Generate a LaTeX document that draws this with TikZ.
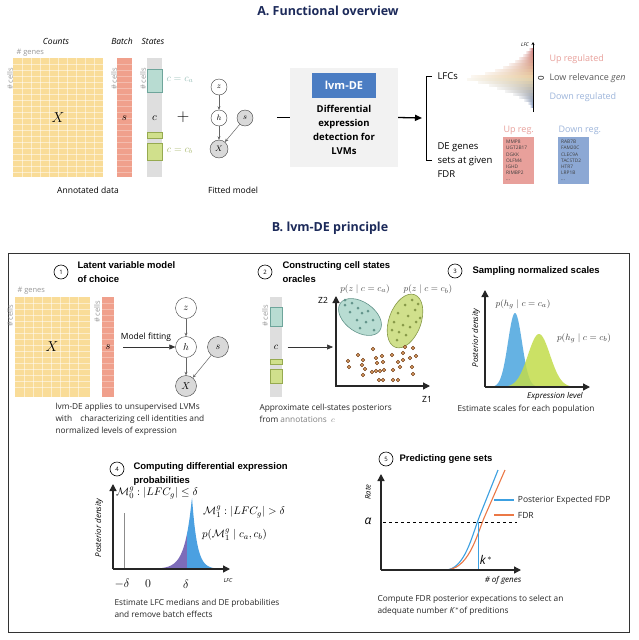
\documentclass[tikz,border=0pt]{standalone}
\usepackage{fontspec}
\setmainfont{Open Sans}
\newfontfamily\hel{Liberation Sans}
\usepackage{amsmath,amssymb}
\usetikzlibrary{arrows.meta,positioning}

\definecolor{navy}{RGB}{28,42,90}
\definecolor{counts}{RGB}{249,220,152}
\definecolor{batch}{RGB}{240,160,140}
\definecolor{states}{RGB}{222,222,222}
\definecolor{statea}{RGB}{184,220,210}
\definecolor{stateaD}{RGB}{110,165,155}
\definecolor{stateb}{RGB}{208,224,140}
\definecolor{statebD}{RGB}{150,170,80}
\definecolor{lvmblue}{RGB}{75,125,195}
\definecolor{upreg}{RGB}{232,160,155}
\definecolor{downreg}{RGB}{140,168,212}
\definecolor{lfcup}{RGB}{200,110,110}
\definecolor{lfcmid}{RGB}{236,214,168}
\definecolor{lfcdown}{RGB}{120,142,185}
\definecolor{peaka}{RGB}{85,170,225}
\definecolor{peakb}{RGB}{195,220,75}
\definecolor{lfcpurple}{RGB}{125,108,185}
\definecolor{lfcblue}{RGB}{75,160,225}
\definecolor{fdp}{RGB}{60,160,225}
\definecolor{fdr}{RGB}{235,120,70}
\definecolor{dotbrown}{RGB}{110,60,25}
\definecolor{dotfill}{RGB}{228,165,105}

\newcommand\sz[2]{\fontsize{#1}{#2}\selectfont}

\tikzset{
  latent/.style={circle,draw=black!75,fill=white,minimum size=16pt,inner sep=0pt,font=\sz{8}{9}},
  observed/.style={latent,fill=black!15},
  latentb/.style={latent,minimum size=21pt,font=\sz{10}{11}},
  observedb/.style={latentb,fill=black!15},
  edge/.style={draw=black!60,line width=.5pt,-{Stealth[length=3.5pt,width=3pt]}},
  stepnum/.style={circle,draw,line width=.6pt,minimum size=14pt,inner sep=0pt,font=\sz{6}{7}},
  heading/.style={anchor=west,align=left,font=\hel\bfseries\sz{9.5}{14}},
  caption/.style={anchor=west,align=left,font=\sz{8.3}{12},text=black!85},
  plotaxis/.style={line width=1.4pt,draw=black!85,-{Triangle[length=7pt,width=7pt]}},
  fitarrow/.style={line width=.5pt,draw=black!80,-{Triangle[length=6pt,width=5pt]}},
  cellslbl/.style={rotate=90,text=black!40,font=\sz{7.5}{8}},
  hyplbl/.style={anchor=west,inner sep=0pt,font=\sz{11}{11}},
}

\begin{document}
\begin{tikzpicture}[x=1pt,y=-1pt]
  \useasboundingbox (0,0) rectangle (639,640);
  \fill[white] (0,0) rectangle (639,640);

  % ---------- A. Functional overview
  \node[font=\bfseries\sz{12.5}{14},text=navy] (titleA) at (328,11) {A. Functional overview};

  \node[font=\itshape\sz{8.5}{9}] at (56,41) {Counts};
  \node[font=\itshape\sz{8.5}{9}] at (122,41) {Batch};
  \node[font=\itshape\sz{8.5}{9}] at (153,41) {States};
  \node[anchor=west,text=black!40,font=\sz{7.5}{8}] at (13,53) {\# genes};

  \fill[counts] (13,58) rectangle (103,177);
  \foreach \gx in {22,31,...,94} \draw[white,opacity=.5,line width=.3pt] (\gx,58) -- (\gx,177);
  \foreach \gy in {64,70,...,172} \draw[white,opacity=.5,line width=.3pt] (13,\gy) -- (103,\gy);
  \node[font=\sz{14}{14}] (xa0) at (58,118) {$X$};
  \fill[batch] (117,58) rectangle (132,177);
  \foreach \gy in {64,70,...,172} \draw[white,opacity=.3,line width=.3pt] (117,\gy) -- (132,\gy);
  \node[font=\sz{11}{11}] (sa0) at (124.5,118) {$s$};
  \fill[states] (147,58) rectangle (162,177);
  \draw[fill=statea,draw=stateaD] (147,69) rectangle (162,92);
  \draw[fill=stateb,draw=statebD] (147,132) rectangle (162,138);
  \draw[fill=stateb,draw=statebD] (147,143) rectangle (162,160);
  \node[font=\sz{11}{11}] (ca0) at (154.5,118) {$c$};
  \node[text=stateaD!70,font=\sz{10}{10}] at (180,80) {$c=c_a$};
  \node[text=statebD!80,font=\sz{10}{10}] at (180,151) {$c=c_b$};
  \node[cellslbl] at (10,79) {\# cells};
  \node[cellslbl] at (114,79) {\# cells};
  \node[cellslbl] at (143,79) {\# cells};

  \node[font=\sz{18}{18}] (plus) at (183,117) {$+$};
  \node[latent] (za) at (219,87) {$z$};
  \node[latent] (ha) at (219,118) {$h$};
  \node[observed] (sa) at (245,118) {$s$};
  \node[observed,minimum size=18pt] (xa) at (219,149) {$X$};
  \draw[edge] (za) -- (ha);
  \draw[edge] (ha) -- (xa);
  \draw[edge] (sa) -- (xa);
  \node[font=\sz{8.5}{9}] at (88,190) {Annotated data};
  \node[font=\sz{8.5}{9}] at (233,190) {Fitted model};

  \node[fill=black!5,minimum width=108pt,minimum height=99pt,inner sep=0pt] (overview) at (344,117.5) {};
  \node[fill=lvmblue,text=white,font=\bfseries\sz{11}{12},minimum width=64pt,minimum height=25pt,inner sep=0pt] (lvm) at (344,85.5) {lvm-DE};
  \node[font=\bfseries\sz{9.5}{14},align=center,anchor=north] (detect) at (344,102) {Differential\\expression\\detection for\\LVMs};
  \draw[line width=1.3pt] (overview.west) ++(-13,0) -- (overview.west);
  \coordinate (brk) at (422,118);
  \draw[line width=1.3pt,-{Triangle[length=7pt,width=6pt]}] (overview.east) -- (brk);
  \draw[line width=1pt] (432,76) -- (426,76) -- (426,160) -- (432,160);
  \node[anchor=west,font=\sz{9.5}{14}] (lfcs) at (434,76) {LFCs};
  \node[anchor=west,align=left,font=\sz{9.5}{14}] (degenes) at (434,160) {DE genes\\sets at given\\FDR};

  % LFC histogram
  \foreach \len [count=\i] in {4,7,10,14,18,24,30,38,48,62,66,55,44,36,28,20,14,9,5,3}{
    \pgfmathsetmacro\by{45+3*\i}
    \ifnum\i<11 \pgfmathtruncatemacro\mix{100-10*(\i-1)}\colorlet{barc}{lfcup!\mix!lfcmid}
    \else \pgfmathtruncatemacro\mix{10*(\i-10)}\colorlet{barc}{lfcdown!\mix!lfcmid}\fi
    \shade[left color=barc!15,right color=barc] (533-\len,\by) rectangle (533,\by+2.6);
  }
  \draw[line width=.6pt,-{Stealth[length=3pt,width=3pt]}] (533,112) -- (533,42);
  \node[font=\itshape\sz{5}{5}] at (525,45) {LFC};
  \node[rotate=90,font=\sz{8}{8}] at (541,78) {0};
  \node[anchor=west,text=upreg,font=\sz{9}{9}] at (546,59) {Up regulated};
  \node[anchor=west,text=black!65,font=\sz{9}{9}] at (546,78) {Low relevance \textit{gen}};
  \node[anchor=west,text=downreg!85,font=\sz{9}{9}] at (546,97) {Down regulated};

  \node[fill=upreg,anchor=north west,text width=25pt,minimum height=46pt,inner sep=3pt,align=left,font=\sz{4.8}{6.2},text=black!75] (upbox) at (503,137) {MMP8\\UGT2B17\\DGKK\\OLFM4\\IGHD\\RIMBP2\\...};
  \node[fill=downreg,anchor=north west,text width=25pt,minimum height=46pt,inner sep=3pt,align=left,font=\sz{4.8}{6.2},text=black!75] (downbox) at (558,137) {RAB7B\\FAM20C\\CLEC9A\\TACSTD2\\HTR7\\LRP1B\\...};
  \node[above=-1pt of upbox,text=upreg,font=\sz{9}{9}] {Up reg.};
  \node[above right=-1pt and -3pt of downbox.north west,text=downreg!85,font=\sz{9}{9}] {Down reg.};

  % ---------- B. lvm-DE principle
  \node[font=\bfseries\sz{12.5}{14},text=navy] (titleB) at (330,228) {B. lvm-DE principle};
  \draw[black!80,line width=.8pt] (8,253) rectangle (629,632);

  % 1
  \node[stepnum] (n1) at (61,272) {1};
  \node[heading] (h1) at (74,272) {Latent variable model\\of choice};
  \node[anchor=west,text=black!40,font=\sz{7.5}{8}] at (14,291) {\# genes};
  \fill[counts] (15,297) rectangle (90,397);
  \foreach \gx in {24,33,...,86} \draw[white,opacity=.5,line width=.3pt] (\gx,297) -- (\gx,397);
  \foreach \gy in {303,309,...,392} \draw[white,opacity=.5,line width=.3pt] (15,\gy) -- (90,\gy);
  \node[font=\sz{14}{14}] (xb0) at (52,347) {$X$};
  \fill[batch] (102,297) rectangle (114,397);
  \foreach \gy in {303,309,...,392} \draw[white,opacity=.3,line width=.3pt] (102,\gy) -- (114,\gy);
  \node[font=\sz{11}{11}] (sb0) at (108,347) {$s$};
  \node[cellslbl] at (10,316) {\# cells};
  \node[cellslbl] at (97,312) {\# cells};
  \node[font=\sz{8.5}{9}] (fitlbl) at (146,337) {Model fitting};
  \node[latentb] (zb) at (186,308) {$z$};
  \node[latentb] (hb) at (186,347) {$h$};
  \node[observedb] (sb) at (218,347) {$s$};
  \node[observedb] (xb) at (186,386) {$X$};
  \draw[edge] (zb) -- (hb);
  \draw[edge] (hb) -- (xb);
  \draw[edge] (sb) -- (xb);
  \draw[fitarrow] (123,347) -- (hb.west);
  \node[caption] at (52,419) {lvm-DE applies to unsupervised LVMs\\with\quad characterizing cell identities and\\normalized levels of expression};

  % 2
  \node[stepnum] (n2) at (265,272) {2};
  \node[heading] (h2) at (279,272) {Constructing cell states\\oracles};
  \fill[states] (270,297) rectangle (282,397);
  \draw[fill=statea,draw=stateaD] (270,307) rectangle (282,326);
  \draw[fill=stateb,draw=statebD] (270,359) rectangle (282,364);
  \draw[fill=stateb,draw=statebD] (270,369) rectangle (282,383);
  \node[font=\sz{10}{10}] (c2) at (276,347) {$c$};
  \node[cellslbl] at (265,316) {\# cells};
  \coordinate (scatter) at (333,347);
  \draw[fitarrow] ([xshift=6pt]c2.east) -- (scatter);

  \draw[fill=statea,draw=stateaD!90!black,line width=.6pt,rotate around={-35:(360,317)}] (360,317) ellipse [x radius=24, y radius=15];
  \draw[fill=stateb,draw=statebD!90!black,line width=.6pt,rotate around={70:(405,321)}] (405,321) ellipse [x radius=28, y radius=16];
  \foreach \px/\py in {345/305,352/303,358/308,350/312,362/313,368/311,357/320,366/322,373/320,360/328,374/330,345/300}
    \fill[stateaD!90!black] (\px,\py) circle[radius=1.5pt];
  \foreach \px/\py in {412/300,405/305,415/310,398/313,408/316,420/318,394/322,403/325,410/327,399/332,392/330,406/335,416/322,397/340,418/304}
    \fill[statebD!90!black] (\px,\py) circle[radius=1.5pt];
  \foreach \px/\py in {373/349,358/355,348/361,363/360,376/358,382/356,392/355,403/353,413/348,416/356,410/358,403/360,383/362,377/363,349/367,365/369,372/372,376/371,380/371,384/370,400/367,412/367,363/375,413/374,379/380,383/380,393/380,398/380,393/370,398/362,405/347,362/365}
    \filldraw[draw=dotbrown,fill=dotfill,line width=.5pt] (\px,\py) circle[radius=1.8pt];
  \draw[plotaxis,line width=1.2pt,{Triangle[length=7pt,width=7pt]}-{Triangle[length=7pt,width=7pt]}] (336,296) -- (336,386) -- (430,386);
  \node[font=\sz{8.5}{9}] (z2) at (323,300) {Z2};
  \node[font=\sz{8.5}{9}] (z1) at (427,399) {Z1};
  \node[text=black!70,font=\sz{9.5}{10}] at (365,289) {$p(z\mid c=c_a)$};
  \node[text=black!70,font=\sz{9.5}{10}] at (428,289) {$p(z\mid c=c_b)$};
  \node[caption] at (256,413) {Approximate cell-states posteriors\\from {\color{black!50}annotations}\ \ {\color{black!50}$c$}};

  % 3
  \node[stepnum] (n3) at (455,271) {3};
  \node[heading] (h3) at (469,271) {Sampling normalized scales};
  \fill[peaka,opacity=.9] plot[domain=490:540,samples=60] (\x,{387-74*exp(-0.5*((\x-515)/7)*((\x-515)/7))}) -- cycle;
  \fill[peakb,opacity=.85] plot[domain=502:578,samples=60] (\x,{387-53*exp(-0.5*((\x-539)/11)*((\x-539)/11))}) -- cycle;
  \draw[plotaxis] (485,387) -- (485,290);
  \draw[plotaxis] (485,387) -- (590,387);
  \node[rotate=90,font=\itshape\sz{8}{8}] at (476,338) {Posterior density};
  \node[font=\itshape\sz{8}{8}] at (555,396) {Expression level};
  \node[text=black!75,font=\sz{9.5}{10}] at (523,304) {$p(h_g\mid c=c_a)$};
  \node[text=black!75,font=\sz{9.5}{10}] at (584,338) {$p(h_g\mid c=c_b)$};
  \node[caption] at (454,409) {Estimate scales for each population};

  % 4
  \node[stepnum] (n4) at (117,469) {4};
  \node[heading] (h4) at (130,474.5) {Computing differential expression\\probabilities};
  \draw[black!45,line width=.8pt] (124,513) -- (124,569);
  \fill[lfcpurple] plot[domain=156:187,samples=40] (\x,{569-72*exp(-abs(\x-192)/7)}) -- (187,569) -- cycle;
  \fill[lfcblue] plot[domain=187:217,samples=60] (\x,{569-72*exp(-abs(\x-192)/((\x<192)*7+(\x>=192)*5))}) -- (187,569) -- cycle;
  \draw[plotaxis] (113,569) -- (113,484);
  \draw[plotaxis] (113,569) -- (230,569);
  \node[rotate=90,font=\itshape\sz{8}{8}] at (99,528) {Posterior density};
  \node[hyplbl] at (116,493) {$\mathcal{M}_0^g : |LFC_g|\leq\delta$};
  \node[hyplbl] at (203,512) {$\mathcal{M}_1^g : |LFC_g|>\delta$};
  \node[hyplbl] at (202,535) {$p(\mathcal{M}_1^g\mid c_a,c_b)$};
  \node[font=\sz{12}{12}] at (122,584) {$-\delta$};
  \node[font=\sz{12}{12}] at (148,584) {$0$};
  \node[font=\sz{12}{12}] at (186,584) {$\delta$};
  \node[font=\itshape\sz{5.5}{6}] at (228,581) {LFC};
  \node[caption] at (111,608) {Estimate LFC medians and DE probabilities\\and remove batch effects};

  % 5
  \node[stepnum] (n5) at (386,459) {5};
  \node[heading] (h5) at (396,459) {Predicting gene sets};
  \draw[dashed,line width=.9pt] (383,522) -- (517,522);
  \draw[fdp,line width=1.1pt] (445,570) .. controls (465,570) and (472,535) .. (480,515) -- (498,470);
  \draw[fdr,line width=1.1pt] (445,570) .. controls (468,570) and (476,538) .. (484,518) -- (505,470);
  \draw[fdp,line width=.9pt] (478,522) -- (478,570);
  \draw[plotaxis] (381,570) -- (381,474);
  \draw[plotaxis] (381,570) -- (521,570);
  \node[rotate=90,font=\itshape\sz{7.5}{8}] at (368,492) {Rate};
  \node[font=\itshape\sz{12}{12}] at (368,521) {α};
  \node[font=\sz{12}{12}] at (486,560) {\textit{k}$^{\,*}$};
  \node[font=\itshape\sz{8}{8}] at (503,580) {\# of genes};
  \draw[fdp,line width=1.1pt] (494,500) -- (514,500) node[right,text=black!85,font=\sz{8.5}{9}] {Posterior Expected FDP};
  \draw[fdr,line width=1.1pt] (494,515) -- (514,515) node[right,text=black!85,font=\sz{8.5}{9}] {FDR};
  \node[caption] at (374,605) {Compute FDR posterior expecations to select an\\adequate number \textit{K}$^*$of preditions};
\end{tikzpicture}
\end{document}
